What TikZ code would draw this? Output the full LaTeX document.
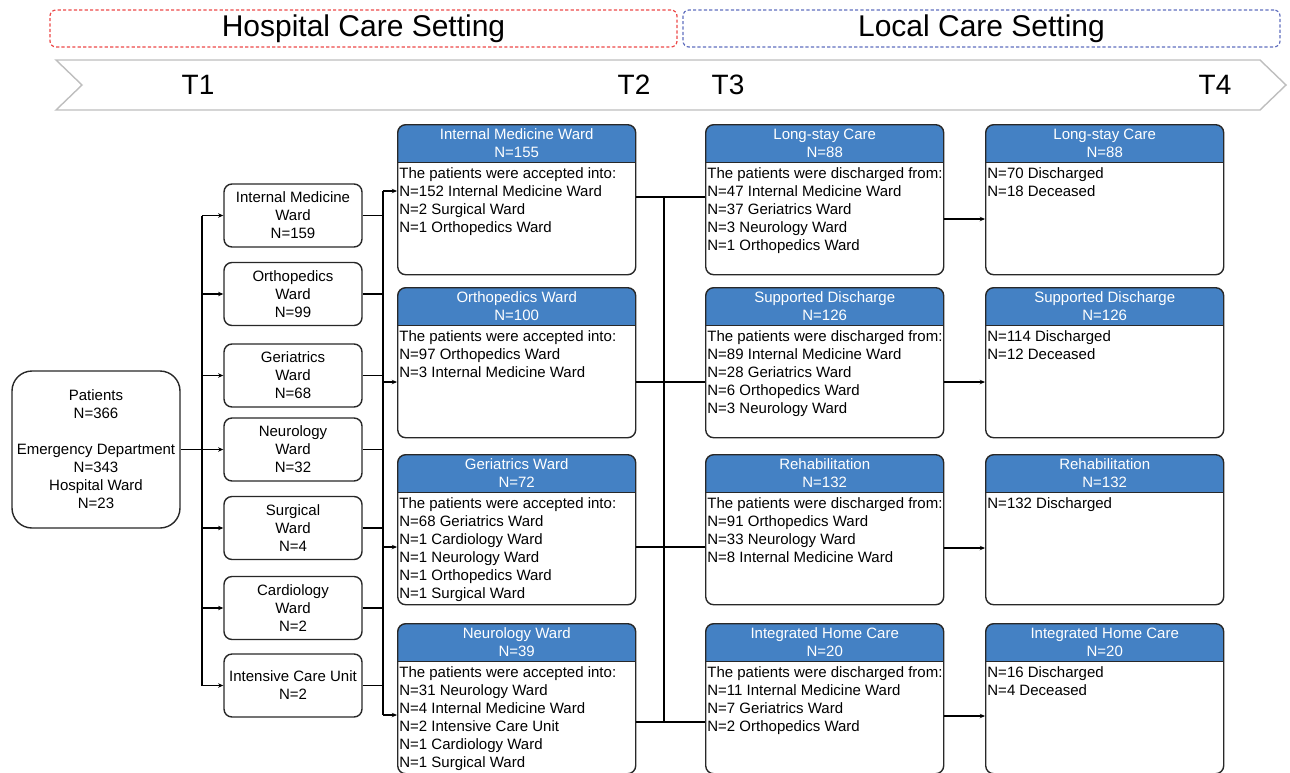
\documentclass[tikz,border=0pt]{standalone}
\usepackage{fontspec}
\setmainfont{Liberation Sans}
\usepackage{tikz}
\usetikzlibrary{arrows.meta}

\definecolor{hdrblue}{RGB}{68,129,196}
\definecolor{boxline}{RGB}{40,40,40}
\definecolor{hospred}{RGB}{236,72,72}
\definecolor{localblue}{RGB}{96,110,190}
\definecolor{chevgray}{RGB}{190,190,190}

\begin{document}
\begin{tikzpicture}[x=0.5pt,y=-0.5pt,
    every node/.style={font=\fontsize{7.5}{9}\selectfont},
    setting/.style={rounded corners=3pt, line width=0.6pt, dash pattern=on 1.6pt off 1.1pt,
        minimum height=18.5pt, inner sep=0pt, font=\fontsize{15}{18}\selectfont},
    tlabel/.style={font=\fontsize{14}{17}\selectfont},
    ward/.style={draw=boxline, line width=0.7pt, rounded corners=4pt, minimum width=69pt,
        minimum height=31.5pt, align=center, inner sep=0pt},
    wbox/.style={draw=boxline, line width=0.7pt, rounded corners=4pt, minimum width=119pt,
        minimum height=75pt, inner sep=0pt, anchor=north west,
        path picture={
            \fill[hdrblue, sharp corners] (path picture bounding box.north west) rectangle
                ([yshift=-19pt]path picture bounding box.north east);
            \draw[boxline, line width=0.7pt] ([yshift=-19pt]path picture bounding box.north west) --
                ([yshift=-19pt]path picture bounding box.north east);}},
    htext/.style={text=white, align=center, inner sep=0pt},
    btext/.style={anchor=north west, align=left, inner sep=0pt},
    flow/.style={line width=0.55pt, black},
    arr/.style={flow, -{Stealth[length=2.6pt,width=2.2pt]}},
]
    \useasboundingbox (0,0) rectangle (1290,772);

    % settings and time line
    \node[setting, draw=hospred, minimum width=313.5pt] (hcs) at (363.5,28.5) {Hospital Care Setting};
    \node[setting, draw=localblue, minimum width=298.5pt] (lcs) at (981.5,28.5) {Local Care Setting};
    \draw[chevgray, line width=0.7pt, fill=white] (56,60) -- (1260,60) -- (1286,85) -- (1260,110) -- (56,110) -- (82,85) -- cycle;
    \node[tlabel] (t1) at (198,85) {T1};
    \node[tlabel] (t2) at (634,85) {T2};
    \node[tlabel] (t3) at (728,85) {T3};
    \node[tlabel] (t4) at (1215,85) {T4};

    % patients and first wards
    \node[ward, rounded corners=10pt, minimum width=84pt, minimum height=78.5pt] (pat) at (96,449.5)
        {Patients\\N=366\\[9pt]Emergency Department\\N=343\\Hospital Ward\\N=23};
    \node[ward] (imw) at (293,215.5) {Internal Medicine\\Ward\\N=159};
    \node[ward] (orw) at (293,294) {Orthopedics\\Ward\\N=99};
    \node[ward] (grw) at (293,375.5) {Geriatrics\\Ward\\N=68};
    \node[ward] (nrw) at (293,449.5) {Neurology\\Ward\\N=32};
    \node[ward] (srw) at (293,528) {Surgical\\Ward\\N=4};
    \node[ward] (crw) at (293,608) {Cardiology\\Ward\\N=2};
    \node[ward] (icu) at (293,685.5) {Intensive Care Unit\\N=2};

    % accepted wards (T2)
    \node[wbox] (aimw) at (397,124) {};
    \node[htext] (aimwh) at ([yshift=-9.5pt]aimw.north) {Internal Medicine Ward\\N=155};
    \node[btext] (aimwb) at ([xshift=1pt,yshift=-21.5pt]aimw.north west)
        {The patients were accepted into:\\N=152 Internal Medicine Ward\\N=2 Surgical Ward\\N=1 Orthopedics Ward};
    \node[wbox] (aorw) at (397,287) {};
    \node[htext] (aorwh) at ([yshift=-9.5pt]aorw.north) {Orthopedics Ward\\N=100};
    \node[btext] (aorwb) at ([xshift=1pt,yshift=-21.5pt]aorw.north west)
        {The patients were accepted into:\\N=97 Orthopedics Ward\\N=3 Internal Medicine Ward};
    \node[wbox] (agrw) at (397,454) {};
    \node[htext] (agrwh) at ([yshift=-9.5pt]agrw.north) {Geriatrics Ward\\N=72};
    \node[btext] (agrwb) at ([xshift=1pt,yshift=-21.5pt]agrw.north west)
        {The patients were accepted into:\\N=68 Geriatrics Ward\\N=1 Cardiology Ward\\N=1 Neurology Ward\\N=1 Orthopedics Ward\\N=1 Surgical Ward};
    \node[wbox] (anrw) at (397,623) {};
    \node[htext] (anrwh) at ([yshift=-9.5pt]anrw.north) {Neurology Ward\\N=39};
    \node[btext] (anrwb) at ([xshift=1pt,yshift=-21.5pt]anrw.north west)
        {The patients were accepted into:\\N=31 Neurology Ward\\N=4 Internal Medicine Ward\\N=2 Intensive Care Unit\\N=1 Cardiology Ward\\N=1 Surgical Ward};

    % local care (T3)
    \node[wbox] (lsc) at (705,124) {};
    \node[htext] (lsch) at ([yshift=-9.5pt]lsc.north) {Long-stay Care\\N=88};
    \node[btext] (lscb) at ([xshift=1pt,yshift=-21.5pt]lsc.north west)
        {The patients were discharged from:\\N=47 Internal Medicine Ward\\N=37 Geriatrics Ward\\N=3 Neurology Ward\\N=1 Orthopedics Ward};
    \node[wbox] (sdc) at (705,287) {};
    \node[htext] (sdch) at ([yshift=-9.5pt]sdc.north) {Supported Discharge\\N=126};
    \node[btext] (sdcb) at ([xshift=1pt,yshift=-21.5pt]sdc.north west)
        {The patients were discharged from:\\N=89 Internal Medicine Ward\\N=28 Geriatrics Ward\\N=6 Orthopedics Ward\\N=3 Neurology Ward};
    \node[wbox] (reh) at (705,454) {};
    \node[htext] (rehh) at ([yshift=-9.5pt]reh.north) {Rehabilitation\\N=132};
    \node[btext] (rehb) at ([xshift=1pt,yshift=-21.5pt]reh.north west)
        {The patients were discharged from:\\N=91 Orthopedics Ward\\N=33 Neurology Ward\\N=8 Internal Medicine Ward};
    \node[wbox] (ihc) at (705,623) {};
    \node[htext] (ihch) at ([yshift=-9.5pt]ihc.north) {Integrated Home Care\\N=20};
    \node[btext] (ihcb) at ([xshift=1pt,yshift=-21.5pt]ihc.north west)
        {The patients were discharged from:\\N=11 Internal Medicine Ward\\N=7 Geriatrics Ward\\N=2 Orthopedics Ward};

    % outcome (T4)
    \node[wbox] (lsco) at (985,124) {};
    \node[htext] (lscoh) at ([yshift=-9.5pt]lsco.north) {Long-stay Care\\N=88};
    \node[btext] (lscob) at ([xshift=1pt,yshift=-21.5pt]lsco.north west) {N=70 Discharged\\N=18 Deceased};
    \node[wbox] (sdco) at (985,287) {};
    \node[htext] (sdcoh) at ([yshift=-9.5pt]sdco.north) {Supported Discharge\\N=126};
    \node[btext] (sdcob) at ([xshift=1pt,yshift=-21.5pt]sdco.north west) {N=114 Discharged\\N=12 Deceased};
    \node[wbox] (reho) at (985,454) {};
    \node[htext] (rehoh) at ([yshift=-9.5pt]reho.north) {Rehabilitation\\N=132};
    \node[btext] (rehob) at ([xshift=1pt,yshift=-21.5pt]reho.north west) {N=132 Discharged};
    \node[wbox] (ihco) at (985,623) {};
    \node[htext] (ihcoh) at ([yshift=-9.5pt]ihco.north) {Integrated Home Care\\N=20};
    \node[btext] (ihcob) at ([xshift=1pt,yshift=-21.5pt]ihco.north west) {N=16 Discharged\\N=4 Deceased};

    % connectors
    \coordinate (busA) at (202,450);
    \coordinate (busB) at (383,450);
    \coordinate (busC) at (664,450);
    \draw[arr] (pat) -- (nrw);
    \draw[flow] (busA |- imw) -- (busA |- icu);
    \foreach \n in {imw,orw,grw,srw,crw,icu}
        \draw[arr] (busA |- \n) -- (\n);
    \foreach \n in {imw,orw,grw,nrw,srw,crw,icu}
        \draw[flow] (\n) -- (busB |- \n);
    \draw[flow] (busB |- 0,191) -- (busB |- 0,715);
    \foreach \n/\y in {aimw/191,aorw/382,agrw/547,anrw/715}
        \draw[arr] (busB |- 0,\y) -- (\n.west |- 0,\y);
    \draw[flow] (busC |- 0,197) -- (busC |- 0,722);
    \foreach \a/\b/\y in {aimw/lsc/197,aorw/sdc/382,agrw/reh/547,anrw/ihc/722}
        \draw[flow] (\a.east |- 0,\y) -- (\b.west |- 0,\y);
    \foreach \a/\b/\y in {lsc/lsco/219,sdc/sdco/382,reh/reho/548,ihc/ihco/716}
        \draw[arr] (\a.east |- 0,\y) -- (\b.west |- 0,\y);
\end{tikzpicture}
\end{document}
